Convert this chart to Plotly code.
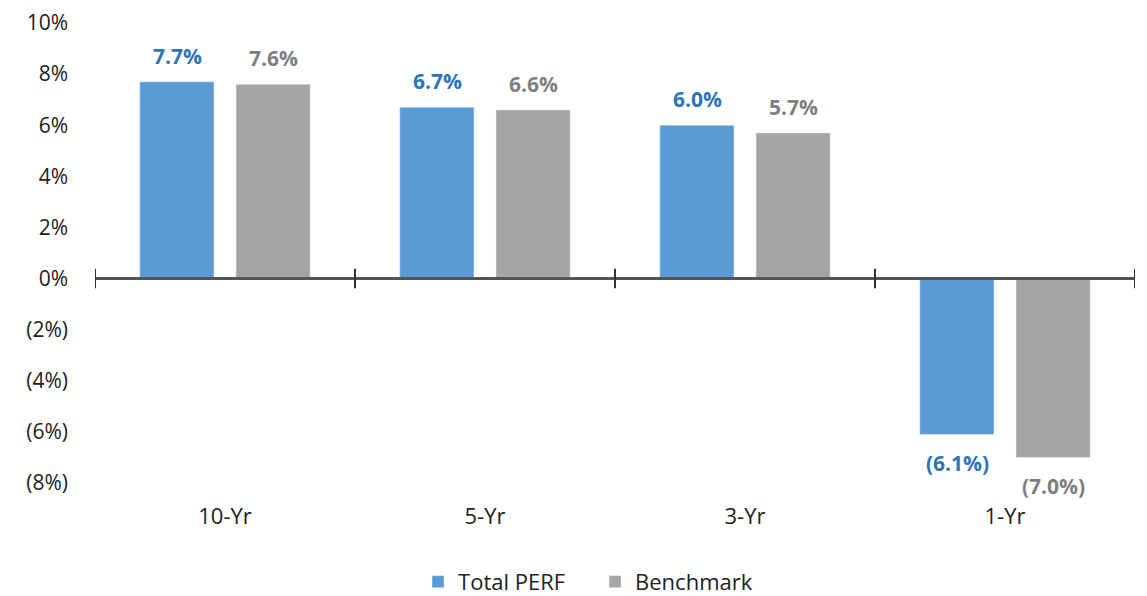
import plotly.graph_objects as go

periods = ["10-Yr", "5-Yr", "3-Yr", "1-Yr"]
total_perf = [7.7, 6.7, 6.0, -6.1]
benchmark = [7.6, 6.6, 5.7, -7.0]
y_ticks = [-8, -6, -4, -2, 0, 2, 4, 6, 8, 10]


def pct(v, dec=1):
    s = f"{abs(v):.{dec}f}%"
    return f"({s})" if v < 0 else s


FONT = "'Open Sans', Lato, sans-serif"

fig = go.Figure()
fig.add_trace(go.Bar(x=periods, y=total_perf, name="Total PERF",
                     marker=dict(color="#5B9BD5")))
fig.add_trace(go.Bar(x=periods, y=benchmark, name="Benchmark",
                     marker=dict(color="#A5A5A5")))

# data labels, a bit further from the bars than plotly's outside text
for vals, color, dx in [(total_perf, "#2E75B6", -48), (benchmark, "#7F7F7F", 48)]:
    for p, v in zip(periods, vals):
        fig.add_annotation(x=p, y=v, text=pct(v), showarrow=False,
                           xshift=dx, yshift=26 if v >= 0 else -29,
                           font=dict(color=color, size=21, family=FONT, weight="bold"))

# zero axis line with cross tick marks between categories
fig.add_shape(type="line", x0=-0.5, x1=len(periods) - 0.5, y0=0, y1=0,
              line=dict(color="#555555", width=3))
for i in range(len(periods) + 1):
    fig.add_shape(type="line", x0=i - 0.5, x1=i - 0.5, y0=-0.38, y1=0.38,
                  line=dict(color="#333333", width=2))

# page body has an 8px margin, so the figure is shrunk/shifted to compensate
fig.update_layout(
    width=1139, height=588,
    margin=dict(l=87, r=12, t=15, b=113),
    plot_bgcolor="white", paper_bgcolor="white",
    barmode="group", bargap=0.26, bargroupgap=0.229,
    font=dict(family=FONT, size=22, color="#222222"),
    xaxis=dict(range=[-0.5, len(periods) - 0.5], showline=False, showgrid=False,
               ticks="", tickfont=dict(size=22), automargin=False,
               ticklabelstandoff=18),
    yaxis=dict(range=[-8, 10], tickvals=y_ticks,
               ticktext=[pct(v, 0) for v in y_ticks],
               showgrid=False, zeroline=False, showline=False,
               ticks="", ticklabelstandoff=26, automargin=False,
               ticklabeloverflow="allow", tickfont=dict(size=21)),
    legend=dict(orientation="h", x=0.36, xanchor="left", xref="container",
                y=0.024, yanchor="middle", yref="container",
                font=dict(size=22), traceorder="normal", entrywidth=132),
    showlegend=True,
)

fig.write_html("out.html")
